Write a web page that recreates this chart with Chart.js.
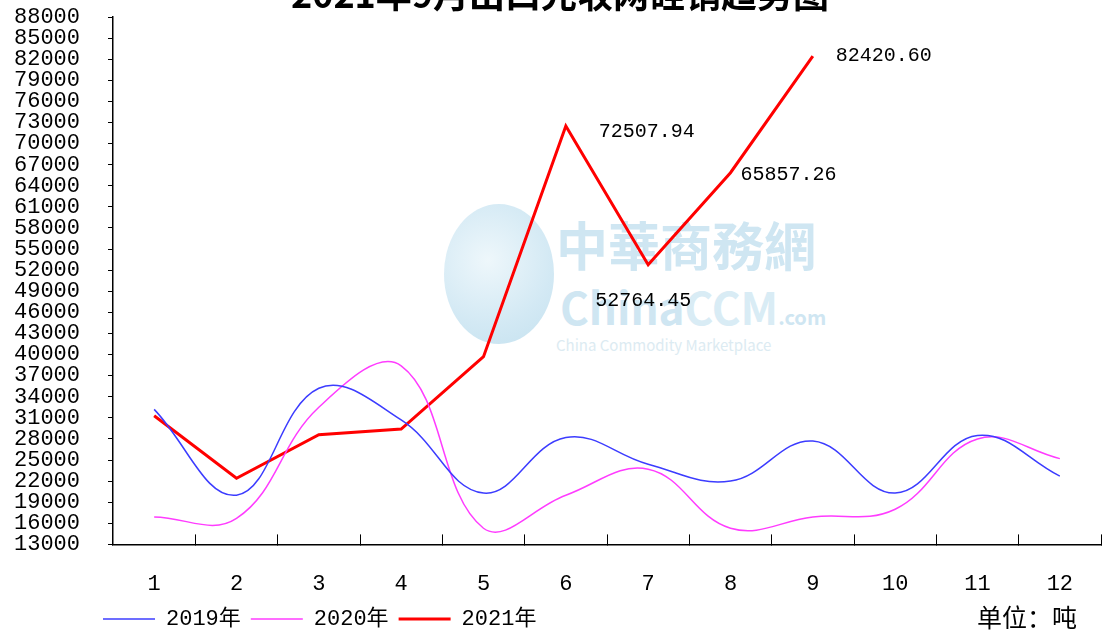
<!DOCTYPE html>
<html>
<head>
<meta charset="utf-8">
<title>出口走势图</title>
<script src="https://cdn.jsdelivr.net/npm/chart.js@4.4.1/dist/chart.umd.min.js"></script>
<style>
  html, body { margin: 0; padding: 0; background: #fff; }
  #wrap { position: relative; width: 1104px; height: 632px; overflow: hidden; }
  #chart { position: absolute; left: 0; top: 0; }
  .wm { position: absolute; color: #cfe6f2; font-family: "Noto Sans CJK SC", sans-serif; white-space: nowrap; }
  #globe { position: absolute; left: 444px; top: 204px; width: 110px; height: 140px; border-radius: 50%;
           background: radial-gradient(circle at 40% 40%, #eef7fb 0%, #d3e9f4 60%, #c4e1ef 100%); }
  #unit { position: absolute; left: 977px; top: 598px; font: 25px "Noto Sans CJK SC", sans-serif; color: #000; }
</style>
</head>
<body>
<div id="wrap">
  <div id="globe"></div>
  <div class="wm" style="left:556px;top:206px;font-size:52px;font-weight:bold;">中華商務網</div>
  <div class="wm" style="left:560px;top:274px;font-size:44px;font-weight:bold;">China<span style="color:#d9ecf5">CCM</span><span style="font-size:20px">.com</span></div>
  <div class="wm" style="left:556px;top:334px;font-size:15px;color:#dcebf2;">China Commodity Marketplace</div>
  <canvas id="chart" width="1104" height="632"></canvas>
  <div id="unit">单位：吨</div>
</div>
<script>
// months on the x axis
const months = ["1", "2", "3", "4", "5", "6", "7", "8", "9", "10", "11", "12"];

// export volume, tons
const vol2019 = [32200, 20000, 35200, 30700, 20300, 28200, 24400, 22000, 27700, 20300, 28500, 22700];
const vol2020 = [16900, 16700, 32500, 38400, 15300, 20000, 23700, 15300, 16900, 18000, 28000, 25200];
const vol2021 = [31300, 22400, 28600, 29400, 39700, 72507.94, 52764.45, 65857.26, 82420.60];

// which 2021 points carry a value label
const labelledIdx = [5, 6, 7, 8];

const titleText = "2021年9月出口光收网硅销趋势图";

// label offsets from the point (px), same order as labelledIdx
const labelDx = [33, -53, 10, 23];
const labelDy = [6, 36, 2, -1];

const monoFont = '"Liberation Mono", "Noto Sans CJK SC", monospace';

// title is partly cut by the top edge, so draw it by hand
const cutTitle = {
    id: "cutTitle",
    afterDraw(chart) {
        const ctx = chart.ctx;
        ctx.save();
        ctx.font = 'bold 36px "Noto Sans CJK SC", sans-serif';
        ctx.fillStyle = "#000";
        ctx.textAlign = "center";
        ctx.textBaseline = "alphabetic";
        ctx.fillText(titleText, 560, 8);
        ctx.restore();
    }
};

// legend sits under the plot, not at the canvas edge
const legendShift = {
    id: "legendShift",
    afterLayout(chart) {
        chart.legend.left = 93;
    }
};

// values next to the 2021 points
const pointLabels = {
    id: "pointLabels",
    afterDatasetsDraw(chart) {
        const ctx = chart.ctx;
        const meta = chart.getDatasetMeta(2);
        ctx.save();
        ctx.font = "20px " + monoFont;
        ctx.fillStyle = "#000";
        ctx.textAlign = "left";
        ctx.textBaseline = "middle";
        labelledIdx.forEach((i, k) => {
            const pt = meta.data[i];
            ctx.fillText(vol2021[i].toFixed(2), pt.x + labelDx[k], pt.y + labelDy[k]);
        });
        ctx.restore();
    }
};

const ctx = document.getElementById("chart").getContext("2d");
new Chart(ctx, {
    type: "line",
    data: {
        labels: months,
        datasets: [
            {
                label: "2019年",
                data: vol2019,
                borderColor: "#3c3cff",
                backgroundColor: "#3c3cff",
                borderWidth: 1.5,
                tension: 0.4,
                pointRadius: 0,
            },
            {
                label: "2020年",
                data: vol2020,
                borderColor: "#ff3cff",
                backgroundColor: "#ff3cff",
                borderWidth: 1.5,
                tension: 0.4,
                pointRadius: 0,
            },
            {
                label: "2021年",
                data: vol2021,
                borderColor: "#ff0000",
                backgroundColor: "#ff0000",
                borderWidth: 3,
                tension: 0,
                pointRadius: 0,
            },
        ],
    },
    options: {
        responsive: false,
        animation: false,
        layout: {
            padding: { left: 0, right: 3, top: 17, bottom: -8 },
        },
        plugins: {
            title: { display: false },
            tooltip: { enabled: false },
            legend: {
                position: "bottom",
                align: "start",
                labels: {
                    usePointStyle: true,
                    pointStyle: "line",
                    pointStyleWidth: 52,
                    color: "#000",
                    padding: 10,
                    font: { family: monoFont, size: 22 },
                },
            },
        },
        scales: {
            x: {
                offset: true,
                grid: {
                    offset: true,
                    drawOnChartArea: false,
                    tickLength: -10,
                    color: "#000",
                },
                border: { color: "#000", width: 1.5 },
                ticks: {
                    color: "#000",
                    padding: 37,
                    maxRotation: 0,
                    font: { family: monoFont, size: 22 },
                },
                afterFit(scale) {
                    scale.height = 53.6;
                    scale.paddingLeft = 0;
                    scale.paddingRight = 0;
                },
            },
            y: {
                min: 13000,
                max: 88000,
                grid: {
                    drawOnChartArea: false,
                    tickLength: 5,
                    color: "#000",
                },
                border: { color: "#000", width: 1.5 },
                ticks: {
                    stepSize: 3000,
                    autoSkip: false,
                    color: "#000",
                    padding: 28,
                    font: { family: monoFont, size: 22, lineHeight: 1 },
                    callback: (v) => String(v),
                },
                afterFit(scale) {
                    scale.width = 113;
                    scale.paddingTop = 0;
                    scale.paddingBottom = 0;
                },
            },
        },
    },
    plugins: [cutTitle, legendShift, pointLabels],
});
</script>
</body>
</html>
